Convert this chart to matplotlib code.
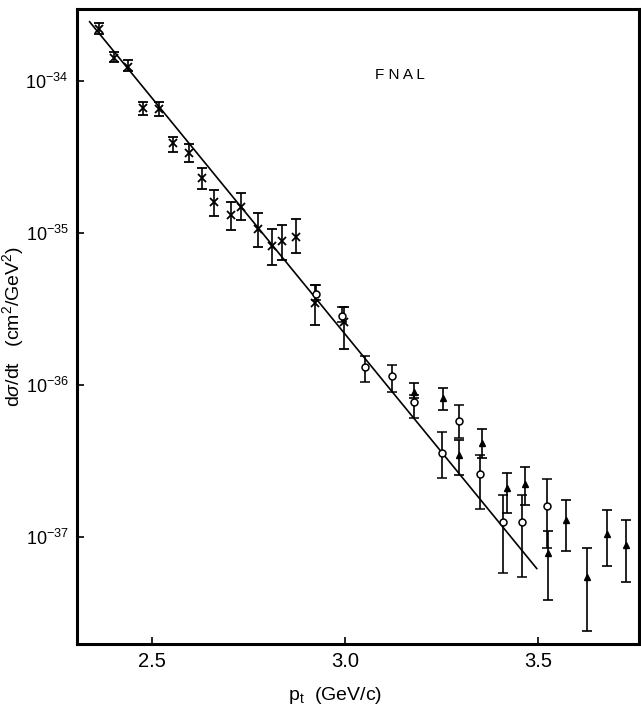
import numpy as np
import matplotlib
matplotlib.use("Agg")
import matplotlib.pyplot as plt

# crosses
pt_x = [2.364, 2.402, 2.439, 2.478, 2.518, 2.555, 2.596, 2.629, 2.661, 2.704,
        2.732, 2.775, 2.810, 2.838, 2.873, 2.922, 2.998]
val_x = [2.19e-34, 1.42e-34, 1.24e-34, 6.61e-35, 6.54e-35, 3.93e-35, 3.37e-35, 2.31e-35,
         1.61e-35, 1.31e-35, 1.49e-35, 1.07e-35, 8.24e-36, 8.89e-36, 9.38e-36, 3.44e-36,
         2.61e-36]
hi_x = [2.40e-34, 1.56e-34, 1.37e-34, 7.31e-35, 7.24e-35, 4.31e-35, 3.83e-35, 2.69e-35,
        1.92e-35, 1.61e-35, 1.84e-35, 1.35e-35, 1.07e-35, 1.13e-35, 1.23e-35, 4.55e-36,
        3.28e-36]
lo_x = [2.03e-34, 1.34e-34, 1.17e-34, 5.97e-35, 5.88e-35, 3.43e-35, 2.92e-35, 1.95e-35,
        1.29e-35, 1.05e-35, 1.22e-35, 8.13e-36, 6.15e-36, 6.64e-36, 7.41e-36, 2.48e-36,
        1.72e-36]

# open circles
pt_o = [2.924, 2.992, 3.052, 3.121, 3.179, 3.251, 3.296, 3.351, 3.409, 3.460, 3.523]
val_o = [3.97e-36, 2.86e-36, 1.32e-36, 1.15e-36, 7.69e-37, 3.56e-37, 5.80e-37, 2.58e-37,
         1.26e-37, 1.26e-37, 1.61e-37]
hi_o = [4.55e-36, 3.28e-36, 1.55e-36, 1.35e-36, 8.60e-37, 4.93e-37, 7.38e-37, 3.46e-37,
        1.89e-37, 1.89e-37, 2.40e-37]
lo_o = [3.60e-36, 2.60e-36, 1.05e-36, 9.04e-37, 6.11e-37, 2.43e-37, 4.48e-37, 1.53e-37,
        5.77e-38, 5.48e-38, 8.43e-38]

# filled triangles
pt_t = [3.179, 3.255, 3.296, 3.356, 3.419, 3.466, 3.525, 3.572, 3.628, 3.680, 3.728]
val_t = [9.04e-37, 8.17e-37, 3.46e-37, 4.17e-37, 2.09e-37, 2.23e-37, 7.82e-38, 1.29e-37,
         5.43e-38, 1.04e-37, 8.85e-38]
hi_t = [1.03e-36, 9.55e-37, 4.35e-37, 5.12e-37, 2.65e-37, 2.90e-37, 1.09e-37, 1.75e-37,
        8.51e-38, 1.51e-37, 1.29e-37]
lo_t = [8.20e-37, 6.85e-37, 2.56e-37, 3.30e-37, 1.43e-37, 1.63e-37, 3.85e-38, 8.09e-38,
        2.42e-38, 6.44e-38, 5.08e-38]

# fitted line
fit_pt = [2.339, 3.497]
fit_val = [2.45e-34, 6.2e-38]

y_ticks = [1e-34, 1e-35, 1e-36, 1e-37]
y_ticklabels = [r'$10^{-34}$', r'$10^{-35}$', r'$10^{-36}$', r'$10^{-37}$']
x_ticks = [2.5, 3.0, 3.5]
x_ticklabels = ['2.5', '3.0', '3.5']

plt.rcParams['font.family'] = ['Liberation Sans', 'DejaVu Sans']
plt.rcParams['mathtext.fontset'] = 'custom'
plt.rcParams['mathtext.rm'] = 'Liberation Sans'
plt.rcParams['mathtext.it'] = 'Liberation Sans:italic'


def yerr(val, lo, hi):
    val = np.array(val)
    return [val - np.array(lo), np.array(hi) - val]


fig = plt.figure(figsize=(6.41, 7.08), dpi=100)
ax = fig.add_axes([0.120, 0.0904, 0.877, 0.897])

ax.plot(fit_pt, fit_val, color='black', lw=1.2)

ebar = dict(ecolor='black', elinewidth=1.2, capsize=3.5, capthick=1.2, ls='none')
ax.errorbar(pt_x, val_x, yerr=yerr(val_x, lo_x, hi_x), fmt='x', color='black',
            ms=6, mew=1.3, **ebar)
ax.errorbar(pt_o, val_o, yerr=yerr(val_o, lo_o, hi_o), fmt='o', mfc='white',
            mec='black', ms=5, mew=1.1, **ebar)
ax.errorbar(pt_t, val_t, yerr=yerr(val_t, lo_t, hi_t), fmt='^', color='black',
            ms=5, **ebar)

ax.set_yscale('log')
ax.set_xlim(2.306, 3.762)
ax.set_ylim(10 ** -37.704, 10 ** -33.526)

ax.set_yticks(y_ticks)
ax.set_yticklabels(y_ticklabels, fontsize=13)
ax.yaxis.set_minor_locator(matplotlib.ticker.NullLocator())
ax.set_xticks(x_ticks)
ax.set_xticklabels(x_ticklabels, fontsize=14.5)
ax.tick_params(axis='both', direction='in', length=5, width=1.2, pad=6)

for spine in ax.spines.values():
    spine.set_linewidth(2.2)

ax.set_ylabel(r'd$\sigma$/dt   (cm$^2$/GeV$^2$)', fontsize=14)
ax.yaxis.set_label_coords(-0.09, 0.5)
ax.set_xlabel(r'p$_{\rm t}$  (GeV/c)', fontsize=14)
ax.xaxis.set_label_coords(0.459, -0.065)

ax.text(0.575, 0.896, 'F N A L', transform=ax.transAxes, fontsize=11,
        ha='center', va='center')

fig.savefig('out.png', dpi=100)
